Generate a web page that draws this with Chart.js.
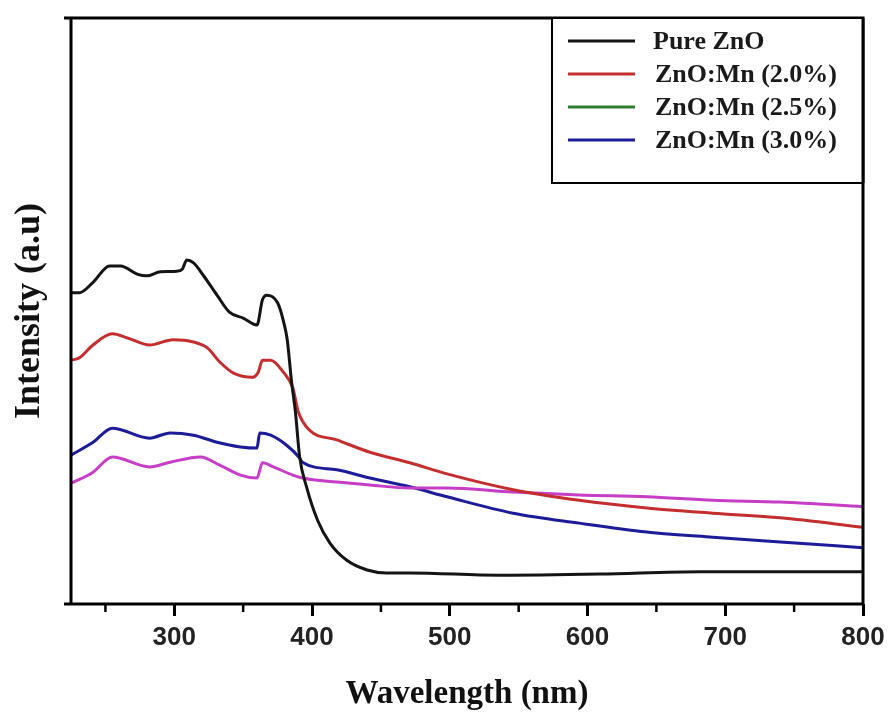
<!DOCTYPE html>
<html>
<head>
<meta charset="utf-8">
<script src="https://cdn.jsdelivr.net/npm/chart.js@4/dist/chart.umd.min.js"></script>
<style>
  body { margin: 0; background: #fff; }
  canvas { display: block; }
</style>
</head>
<body>
<canvas id="uv-chart" width="888" height="713"></canvas>
<script>
    "use strict";

    // Data (wavelength in nm, intensity in arbitrary units 0-100)
    var pureX = [225, 231, 241, 253, 261, 273, 280, 290, 302, 306, 309, 314, 321, 331, 340, 350, 360, 364, 367, 375, 379, 382, 385, 388, 391, 396, 404, 413, 425, 440, 454, 471, 536, 609, 682, 800];
    var pureY = [53.1, 53.1, 54.9, 57.7, 57.7, 56.3, 56.0, 56.7, 56.8, 57.2, 58.7, 58.2, 56.1, 52.7, 49.8, 48.8, 47.6, 51.9, 52.7, 51.4, 48.5, 45.1, 38.2, 32.6, 25.1, 20.0, 14.3, 10.4, 7.5, 5.8, 5.3, 5.3, 4.9, 5.1, 5.5, 5.5];

    var mn20X = [225, 231, 241, 255, 266, 282, 299, 314, 324, 333, 343, 357, 361, 364, 370, 379, 386, 390, 398, 418, 442, 471, 498, 546, 594, 643, 691, 740, 800];
    var mn20Y = [41.6, 42.0, 44.2, 46.1, 45.4, 44.2, 45.1, 44.7, 43.7, 41.3, 39.4, 38.7, 39.6, 41.6, 41.6, 39.6, 36.9, 32.8, 29.7, 28.0, 25.9, 24.1, 22.2, 19.5, 17.7, 16.4, 15.5, 14.7, 13.1];

    var mn25X = [225, 241, 255, 282, 297, 319, 333, 348, 360, 364, 372, 386, 393, 418, 442, 471, 498, 546, 594, 643, 691, 740, 800];
    var mn25Y = [20.6, 22.5, 25.1, 23.4, 24.2, 25.1, 23.7, 22.0, 21.5, 24.1, 23.4, 22.0, 21.5, 20.8, 20.3, 19.8, 19.8, 19.1, 18.6, 18.3, 17.7, 17.4, 16.6];

    var mn30X = [225, 241, 255, 282, 297, 314, 331, 348, 360, 362, 370, 382, 391, 393, 418, 442, 471, 498, 546, 594, 643, 691, 740, 800];
    var mn30Y = [25.4, 27.6, 30.0, 28.3, 29.2, 28.8, 27.6, 26.8, 26.6, 29.2, 28.8, 27.0, 24.9, 24.2, 22.9, 21.5, 20.0, 18.3, 15.5, 13.8, 12.3, 11.4, 10.6, 9.6];

    var seriesLabels = ["Pure ZnO", "ZnO:Mn (2.0%)", "ZnO:Mn (2.5%)", "ZnO:Mn (3.0%)"];
    var majorTicks = [300, 400, 500, 600, 700, 800];
    var minorTicks = [250, 350, 450, 550, 650, 750];

    var lineColors = ["#141414", "#c42e2e", "#c63ec6", "#1c1c98"];
    var legendColors = ["#141414", "#c42e2e", "#2f7d32", "#1c1c98"];

    function toPoints(xs, ys) {
        return xs.map(function (x, i) { return {x: x, y: ys[i]}; });
    }

    // Frame, minor ticks and boxed legend
    var framePlugin = {
        id: "frame",
        afterDraw: function (chart) {
            var ctx = chart.ctx;
            var a = chart.chartArea;
            var xs = chart.scales.x;
            ctx.save();
            ctx.strokeStyle = "#000";
            ctx.lineWidth = 3;
            ctx.beginPath();
            ctx.moveTo(a.left - 7, a.bottom);
            ctx.lineTo(a.right, a.bottom);
            ctx.lineTo(a.right, a.top);
            ctx.lineTo(a.left - 7, a.top);
            ctx.moveTo(a.left, a.top);
            ctx.lineTo(a.left, a.bottom);
            ctx.stroke();

            ctx.lineWidth = 2.5;
            minorTicks.forEach(function (v) {
                var px = xs.getPixelForValue(v);
                ctx.beginPath();
                ctx.moveTo(px, a.bottom);
                ctx.lineTo(px, a.bottom + 8);
                ctx.stroke();
            });

            // legend box
            var bx = 552, by = a.top, bw = a.right - bx, bh = 165;
            ctx.fillStyle = "#fff";
            ctx.fillRect(bx, by, bw, bh);
            ctx.lineWidth = 2;
            ctx.strokeRect(bx, by, bw, bh);
            ctx.lineWidth = 3;
            ctx.beginPath();
            ctx.moveTo(a.right, by);
            ctx.lineTo(a.right, by + bh);
            ctx.stroke();

            ctx.font = "bold 26px 'Liberation Serif'";
            ctx.textBaseline = "middle";
            ctx.textAlign = "left";
            seriesLabels.forEach(function (label, i) {
                var y = 41 + i * 33;
                ctx.strokeStyle = legendColors[i];
                ctx.lineWidth = 3;
                ctx.beginPath();
                ctx.moveTo(568, y);
                ctx.lineTo(635, y);
                ctx.stroke();
                ctx.fillStyle = "#1a1a1a";
                ctx.fillText(label, i === 0 ? 653 : 655, y + 1);
            });
            ctx.restore();
        }
    };

    var ctx1 = document.getElementById("uv-chart").getContext("2d");
    var myChart1 = new Chart(ctx1, {
        type: "line",
        data: {
            datasets: [
                {label: seriesLabels[0], data: toPoints(pureX, pureY), borderColor: lineColors[0]},
                {label: seriesLabels[1], data: toPoints(mn20X, mn20Y), borderColor: lineColors[1]},
                {label: seriesLabels[2], data: toPoints(mn25X, mn25Y), borderColor: lineColors[2]},
                {label: seriesLabels[3], data: toPoints(mn30X, mn30Y), borderColor: lineColors[3]}
            ]
        },
        options: {
            responsive: false,
            animation: false,
            layout: {padding: {top: 18, right: 25, left: 0, bottom: 0}},
            elements: {
                point: {radius: 0},
                line: {borderWidth: 3, cubicInterpolationMode: "monotone", fill: false}
            },
            plugins: {
                legend: {display: false},
                tooltip: {enabled: false}
            },
            scales: {
                x: {
                    type: "linear",
                    min: 225,
                    max: 800,
                    afterFit: function (scale) {
                        scale.height = 109;
                        scale.paddingLeft = 0;
                        scale.paddingRight = 0;
                    },
                    afterBuildTicks: function (scale) {
                        scale.ticks = majorTicks.map(function (v) { return {value: v}; });
                    },
                    border: {display: false},
                    grid: {drawOnChartArea: false, tickLength: 12, tickWidth: 3, tickColor: "#000"},
                    ticks: {
                        color: "#222",
                        padding: 6,
                        maxRotation: 0,
                        font: {family: "'Liberation Sans'", size: 26, weight: "bold"}
                    },
                    title: {
                        display: true,
                        text: "Wavelength (nm)",
                        color: "#111",
                        padding: {top: 0, bottom: 0},
                        font: {family: "'Liberation Serif'", size: 33, weight: "bold", lineHeight: 1.1}
                    }
                },
                y: {
                    min: 0,
                    max: 100,
                    afterFit: function (scale) { scale.width = 71; },
                    border: {display: false},
                    grid: {display: false},
                    ticks: {display: false},
                    title: {
                        display: true,
                        text: "Intensity (a.u)",
                        color: "#111",
                        padding: {top: 10, bottom: 0},
                        font: {family: "'Liberation Serif'", size: 36, weight: "bold", lineHeight: 1.1}
                    }
                }
            }
        },
        plugins: [framePlugin]
    });
</script>
</body>
</html>
